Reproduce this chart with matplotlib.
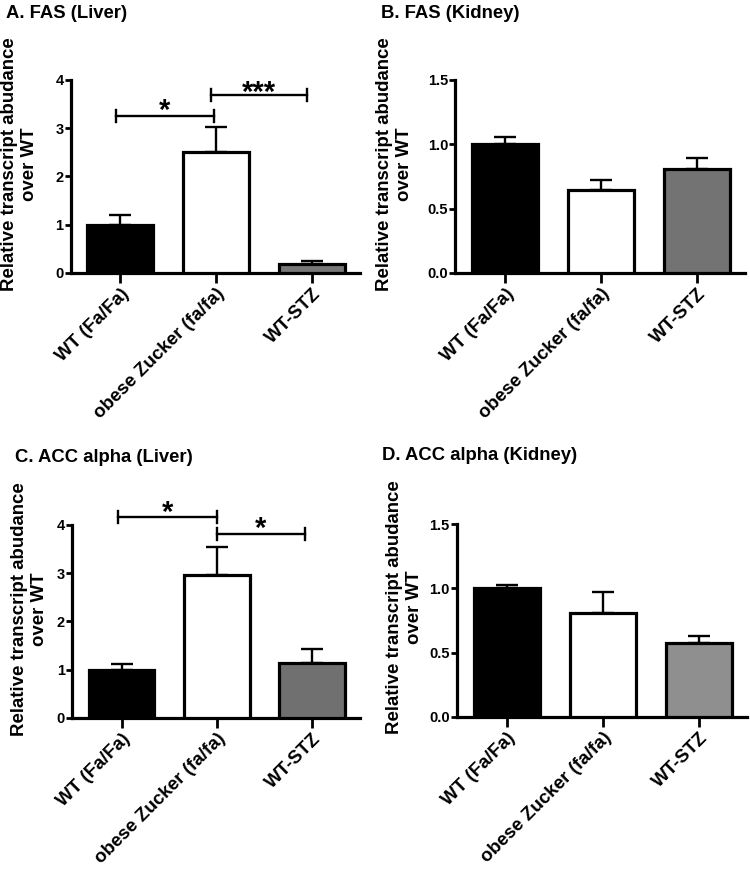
import matplotlib
matplotlib.use("Agg")
import matplotlib.pyplot as plt

plt.rcParams['font.family'] = ['Liberation Sans', 'DejaVu Sans']
plt.rcParams['font.weight'] = 'bold'

categories = ["WT (Fa/Fa)", "obese Zucker (fa/fa)", "WT-STZ"]

fas_liver = [1.0, 2.5, 0.19]
fas_liver_err = [0.20, 0.52, 0.06]
fas_kidney = [1.0, 0.647, 0.807]
fas_kidney_err = [0.053, 0.077, 0.085]
acc_liver = [1.0, 2.96, 1.14]
acc_liver_err = [0.11, 0.58, 0.29]
acc_kidney = [1.0, 0.81, 0.577]
acc_kidney_err = [0.027, 0.165, 0.053]

panels = [
    dict(title="A. FAS (Liver)", vals=fas_liver, err=fas_liver_err, ylim=4, yticks=[0, 1, 2, 3, 4],
         fmt="{:.0f}", stz="#777777",
         rect=[0.094, 0.686, 0.386, 0.222],
         brackets=[(-0.05, 0.98, 3.26, "*", 3.19), (0.95, 1.95, 3.69, "***", 3.57)],
         title_xy=(0.008, 0.985), ylab_xy=(0.026, 0.811)),
    dict(title="B. FAS (Kidney)", vals=fas_kidney, err=fas_kidney_err, ylim=1.5, yticks=[0, 0.5, 1.0, 1.5],
         fmt="{:.1f}", stz="#737373",
         rect=[0.607, 0.686, 0.386, 0.222], brackets=[],
         title_xy=(0.508, 0.985), ylab_xy=(0.526, 0.811)),
    dict(title="C. ACC alpha (Liver)", vals=acc_liver, err=acc_liver_err, ylim=4, yticks=[0, 1, 2, 3, 4],
         fmt="{:.0f}", stz="#707070",
         rect=[0.096, 0.174, 0.384, 0.222],
         brackets=[(-0.04, 1.0, 4.16, "*", 4.08), (1.0, 1.92, 3.81, "*", 3.74)],
         title_xy=(0.020, 0.473), ylab_xy=(0.039, 0.299)),
    dict(title="D. ACC alpha (Kidney)", vals=acc_kidney, err=acc_kidney_err, ylim=1.5, yticks=[0, 0.5, 1.0, 1.5],
         fmt="{:.1f}", stz="#8f8f8f",
         rect=[0.609, 0.175, 0.387, 0.222], brackets=[],
         title_xy=(0.509, 0.476), ylab_xy=(0.539, 0.301)),
]

fig = plt.figure(figsize=(7.5, 8.69), dpi=100)

for p in panels:
    ax = fig.add_axes(p["rect"])
    x = list(range(len(categories)))
    colors = ["black", "white", p["stz"]]
    ax.bar(x, p["vals"], width=0.69, color=colors, edgecolor="black", linewidth=2.3, zorder=3)
    ax.errorbar(x, p["vals"], yerr=[[0, 0, 0], p["err"]], fmt="none", ecolor="black",
                elinewidth=1.7, capsize=8, capthick=1.7, zorder=2)
    ax.set_xlim(-0.52, 2.5)
    ax.set_ylim(0, p["ylim"])
    ax.set_yticks(p["yticks"])
    ax.set_yticklabels([p["fmt"].format(v) for v in p["yticks"]], fontsize=10.5, fontweight="bold")
    ax.set_xticks(x)
    ax.set_xticklabels(categories, rotation=45, ha="right", rotation_mode="anchor",
                       fontsize=13.5, fontweight="bold")
    for s in ["top", "right"]:
        ax.spines[s].set_visible(False)
    for s in ["left", "bottom"]:
        ax.spines[s].set_linewidth(2.3)
    ax.tick_params(axis="y", length=4, width=2, pad=1)
    ax.tick_params(axis="x", length=7, width=2, pad=2)
    for (x0, x1, yb, txt, yt) in p["brackets"]:
        ax.plot([x0, x1], [yb, yb], color="black", lw=1.7, clip_on=False)
        h = p["ylim"] * 0.031
        ax.plot([x0, x0], [yb - h, yb + h], color="black", lw=1.7, clip_on=False)
        ax.plot([x1, x1], [yb - h, yb + h], color="black", lw=1.7, clip_on=False)
        ax.text((x0 + x1) / 2, yt, txt, ha="center", va="baseline", fontsize=21, fontweight="bold")
    fig.text(p["title_xy"][0], p["title_xy"][1], p["title"], ha="left", va="center",
             fontsize=13.3, fontweight="bold")
    fig.text(p["ylab_xy"][0], p["ylab_xy"][1], "Relative transcript abudance\nover WT",
             rotation=90, ha="center", va="center", multialignment="center",
             fontsize=13.4, fontweight="bold", linespacing=1.2)

fig.savefig("out.png", dpi=100)
